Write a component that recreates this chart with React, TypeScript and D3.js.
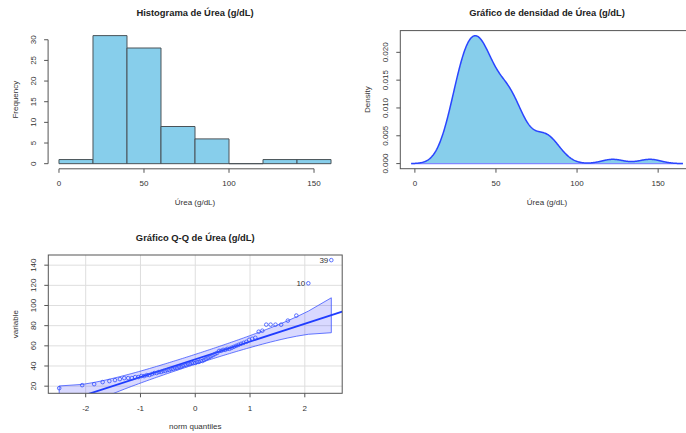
import React from "react";
import * as d3 from "d3";

const ureaValues: number[] = [
  18, 21, 22, 24, 25, 26, 27, 28, 28, 28, 29, 29, 30, 30, 31, 31, 32, 33, 33, 34,
  34, 35, 35, 36, 36, 37, 37, 38, 38, 39, 39, 40,
  41, 41, 42, 42, 43, 43, 43, 44, 44, 45, 45, 46, 47, 48, 49, 50, 51, 52,
  53, 55, 55, 56, 56, 57, 57, 58, 59, 60,
  61, 62, 63, 64, 66, 67, 68, 74, 75,
  81, 81, 81, 81, 85, 90,
  122, 145,
];
// observation ids of the two largest values (labelled on the Q-Q plot)
const outlierLabels: string[] = ["10", "39"];

const histBreaks: number[] = [0, 20, 40, 60, 80, 100, 120, 140, 160];
const histXTicks: number[] = [0, 50, 100, 150];
const histYTicks: number[] = [0, 5, 10, 15, 20, 25, 30];
const densXTicks: number[] = [0, 50, 100, 150];
const densYTicks: number[] = [0, 0.005, 0.01, 0.015, 0.02];
const qqXTicks: number[] = [-2, -1, 0, 1, 2];
const qqYTicks: number[] = [20, 40, 60, 80, 100, 120, 140];
// robust reference line of the Q-Q plot
const qqLineIntercept = 46.6;
const qqLineSlope = 17.6;

const titles = {
  hist: "Histograma de Úrea (g/dL)",
  dens: "Gráfico de densidad de Úrea (g/dL)",
  qq: "Gráfico Q-Q de Úrea (g/dL)",
};

// ---- helpers ----
const FONT = "'Liberation Sans', Arial, Helvetica, sans-serif";
const AXIS_COL = "#555";
const TEXT_COL = "#333";
const SKY = "#87CEEB";

function qnorm(p: number): number {
  const a = [-3.969683028665376e1, 2.209460984245205e2, -2.759285104469687e2, 1.38357751867269e2, -3.066479806614716e1, 2.506628277459239];
  const b = [-5.447609879822406e1, 1.615858368580409e2, -1.556989798598866e2, 6.680131188771972e1, -1.328068155288572e1];
  const c = [-7.784894002430293e-3, -3.223964580411365e-1, -2.400758277161838, -2.549732539343734, 4.374664141464968, 2.938163982698783];
  const d = [7.784695709041462e-3, 3.224671290700398e-1, 2.445134137142996, 3.754408661907416];
  const pl = 0.02425;
  if (p < pl) {
    const q = Math.sqrt(-2 * Math.log(p));
    return (((((c[0] * q + c[1]) * q + c[2]) * q + c[3]) * q + c[4]) * q + c[5]) / ((((d[0] * q + d[1]) * q + d[2]) * q + d[3]) * q + 1);
  }
  if (p <= 1 - pl) {
    const q = p - 0.5;
    const r = q * q;
    return ((((((a[0] * r + a[1]) * r + a[2]) * r + a[3]) * r + a[4]) * r + a[5]) * q) / (((((b[0] * r + b[1]) * r + b[2]) * r + b[3]) * r + b[4]) * r + 1);
  }
  const q = Math.sqrt(-2 * Math.log(1 - p));
  return -(((((c[0] * q + c[1]) * q + c[2]) * q + c[3]) * q + c[4]) * q + c[5]) / ((((d[0] * q + d[1]) * q + d[2]) * q + d[3]) * q + 1);
}
const dnorm = (z: number) => Math.exp(-0.5 * z * z) / Math.sqrt(2 * Math.PI);
const ext = (lo: number, hi: number): [number, number] => {
  const r = hi - lo;
  return [lo - 0.04 * r, hi + 0.04 * r];
};

type AxisProps = {
  scale: d3.ScaleLinear<number, number>;
  ticks: number[];
  pos: number;
  fmt?: (v: number) => string;
  line?: boolean;
};
function XAxis({ scale, ticks, pos, fmt = String, line = true }: AxisProps) {
  return (
    <g>
      {line && (
        <line x1={scale(ticks[0])} x2={scale(ticks[ticks.length - 1])} y1={pos} y2={pos} stroke={AXIS_COL} />
      )}
      {ticks.map((t) => (
        <g key={t}>
          <line x1={scale(t)} x2={scale(t)} y1={pos} y2={pos + 4} stroke={AXIS_COL} />
          <text x={scale(t)} y={pos + 15} textAnchor="middle" dominantBaseline="central" fontSize={8} fill={TEXT_COL}>
            {fmt(t)}
          </text>
        </g>
      ))}
    </g>
  );
}
function YAxis({ scale, ticks, pos, fmt = String, line = true }: AxisProps) {
  return (
    <g>
      {line && (
        <line x1={pos} x2={pos} y1={scale(ticks[0])} y2={scale(ticks[ticks.length - 1])} stroke={AXIS_COL} />
      )}
      {ticks.map((t) => (
        <g key={t}>
          <line x1={pos - 4} x2={pos} y1={scale(t)} y2={scale(t)} stroke={AXIS_COL} />
          <text
            transform={`translate(${pos - 15},${scale(t)}) rotate(-90)`}
            textAnchor="middle"
            dominantBaseline="central"
            fontSize={8}
            fill={TEXT_COL}
          >
            {fmt(t)}
          </text>
        </g>
      ))}
    </g>
  );
}
function Labels({ x0, x1, y0, y1, title, xlab, ylab }: { x0: number; x1: number; y0: number; y1: number; title: string; xlab: string; ylab: string }) {
  const cx = (x0 + x1) / 2;
  const cy = (y0 + y1) / 2;
  return (
    <g>
      <text x={cx} y={y0 - 18} textAnchor="middle" dominantBaseline="central" fontSize={9.4} fontWeight="bold" fill="#222">
        {title}
      </text>
      <text x={cx} y={y1 + 33.5} textAnchor="middle" dominantBaseline="central" fontSize={8} fill={TEXT_COL}>
        {xlab}
      </text>
      <text transform={`translate(${x0 - 32.5},${cy}) rotate(-90)`} textAnchor="middle" dominantBaseline="central" fontSize={8} fill={TEXT_COL}>
        {ylab}
      </text>
    </g>
  );
}

// ---- Histogram ----
function Histogram() {
  const X0 = 48.1, X1 = 341.9, Y0 = 30.5, Y1 = 168.8;
  const counts = histBreaks.slice(0, -1).map((b0, i) => {
    const b1 = histBreaks[i + 1];
    return {
      x0: b0,
      x1: b1,
      n: ureaValues.filter((v) => (i === 0 ? v >= b0 : v > b0) && v <= b1).length,
    };
  });
  const maxN = d3.max(counts, (c) => c.n) as number;
  const x = d3.scaleLinear().domain(ext(histBreaks[0], histBreaks[histBreaks.length - 1])).range([X0, X1]);
  const y = d3.scaleLinear().domain(ext(0, maxN)).range([Y1, Y0]);
  return (
    <g>
      {counts.map((c) => (
        <path
          key={c.x0}
          d={`M${x(c.x0)},${y(0)}V${y(c.n)}H${x(c.x1)}V${y(0)}Z`}
          fill={SKY}
          stroke="#4a5358"
          strokeWidth={1}
        />
      ))}
      <XAxis scale={x} ticks={histXTicks} pos={Y1} />
      <YAxis scale={y} ticks={histYTicks} pos={X0} />
      <Labels x0={X0} x1={X1} y0={Y0} y1={Y1} title={titles.hist} xlab="Úrea (g/dL)" ylab="Frequency" />
    </g>
  );
}

// ---- Density ----
function Density() {
  const X0 = 400.3, X1 = 693.8, Y0 = 30.6, Y1 = 168.7;
  const n = ureaValues.length;
  const sd = d3.deviation(ureaValues) as number;
  const iqr = (d3.quantile(ureaValues, 0.75) as number) - (d3.quantile(ureaValues, 0.25) as number);
  const bw = 0.9 * Math.min(sd, iqr / 1.34) * Math.pow(n, -0.2);
  const lo = (d3.min(ureaValues) as number) - 3 * bw;
  const hi = (d3.max(ureaValues) as number) + 3 * bw;
  const grid = d3.range(512).map((i) => lo + ((hi - lo) * i) / 511);
  const dens = grid.map((g) => ({
    x: g,
    y: d3.mean(ureaValues, (v) => dnorm((g - v) / bw) / bw) as number,
  }));
  const maxD = d3.max(dens, (p) => p.y) as number;
  const x = d3.scaleLinear().domain(ext(lo, hi)).range([X0, X1]);
  const y = d3.scaleLinear().domain(ext(0, maxD)).range([Y1, Y0]);
  const area = d3.area<{ x: number; y: number }>().x((p) => x(p.x)).y0(y(0)).y1((p) => y(p.y));
  const line = d3.line<{ x: number; y: number }>().x((p) => x(p.x)).y((p) => y(p.y));
  return (
    <g>
      <defs>
        <clipPath id="densClip">
          <rect x={X0} y={Y0} width={X1 - X0} height={Y1 - Y0} />
        </clipPath>
      </defs>
      <g clipPath="url(#densClip)">
        <path d={area(dens) as string} fill={SKY} stroke="none" />
        <line x1={x(lo)} x2={x(hi)} y1={y(0)} y2={y(0)} stroke="#8088ff" strokeWidth={1.4} />
        <path d={line(dens) as string} fill="none" stroke="#2a45ff" strokeWidth={1.5} />
      </g>
      <rect x={X0} y={Y0} width={X1 - X0} height={Y1 - Y0} fill="none" stroke={AXIS_COL} />
      <XAxis scale={x} ticks={densXTicks} pos={Y1} line={false} />
      <YAxis scale={y} ticks={densYTicks} pos={X0} fmt={d3.format(".3f")} line={false} />
      <Labels x0={X0} x1={X1} y0={Y0} y1={Y1} title={titles.dens} xlab="Úrea (g/dL)" ylab="Density" />
    </g>
  );
}

// ---- Q-Q plot ----
function QQPlot() {
  const X0 = 48.3, X1 = 342.2, Y0 = 255, Y1 = 393.3;
  const n = ureaValues.length;
  const sorted = [...ureaValues].sort((a, b) => a - b);
  const P = sorted.map((_, i) => (i + 1 - 0.5) / n);
  const z = P.map(qnorm);
  const x = d3.scaleLinear().domain(ext(z[0], z[n - 1])).range([X0, X1]);
  const y = d3.scaleLinear().domain(ext(sorted[0], sorted[n - 1])).range([Y1, Y0]);
  const env = z.map((zz, i) => {
    const fit = qqLineIntercept + qqLineSlope * zz;
    const se = (qqLineSlope / dnorm(zz)) * Math.sqrt((P[i] * (1 - P[i])) / n);
    return { z: zz, up: fit + 1.96 * se, lo: fit - 1.96 * se };
  });
  const poly =
    "M" +
    env.map((e) => `${x(e.z)},${y(e.up)}`).join("L") +
    "L" +
    [...env].reverse().map((e) => `${x(e.z)},${y(e.lo)}`).join("L") +
    "Z";
  const [dx0, dx1] = x.domain();
  return (
    <g>
      <defs>
        <clipPath id="qqClip">
          <rect x={X0} y={Y0} width={X1 - X0} height={Y1 - Y0} />
        </clipPath>
      </defs>
      {qqXTicks.map((t) => (
        <line key={"gx" + t} x1={x(t)} x2={x(t)} y1={Y0} y2={Y1} stroke="#dedede" />
      ))}
      {qqYTicks.map((t) => (
        <line key={"gy" + t} x1={X0} x2={X1} y1={y(t)} y2={y(t)} stroke="#dedede" />
      ))}
      <g clipPath="url(#qqClip)">
        <path d={poly} fill="rgba(0,0,255,0.15)" stroke="#3d55ff" strokeWidth={0.8} />
        <line
          x1={x(dx0)}
          x2={x(dx1)}
          y1={y(qqLineIntercept + qqLineSlope * dx0)}
          y2={y(qqLineIntercept + qqLineSlope * dx1)}
          stroke="#1f3cff"
          strokeWidth={1.8}
        />
        {sorted.map((v, i) => (
          <circle key={i} cx={x(z[i])} cy={y(v)} r={1.8} fill="none" stroke="#3550ff" strokeWidth={0.8} />
        ))}
      </g>
      {outlierLabels.map((lab, k) => {
        const i = n - outlierLabels.length + k;
        return (
          <text key={lab} x={x(z[i]) - 3} y={y(sorted[i])} textAnchor="end" dominantBaseline="central" fontSize={8} fill={TEXT_COL}>
            {lab}
          </text>
        );
      })}
      <rect x={X0} y={Y0} width={X1 - X0} height={Y1 - Y0} fill="none" stroke={AXIS_COL} />
      <XAxis scale={x} ticks={qqXTicks} pos={Y1} line={false} />
      <YAxis scale={y} ticks={qqYTicks} pos={X0} line={false} />
      <Labels x0={X0} x1={X1} y0={Y0} y1={Y1} title={titles.qq} xlab="norm quantiles" ylab="variable" />
    </g>
  );
}

export default function App() {
  return (
    <svg
      width={686}
      height={433}
      style={{ position: "absolute", left: 0, top: 0, background: "#fff" }}
      fontFamily={FONT}
    >
      <rect width={686} height={433} fill="#fff" />
      <Histogram />
      <Density />
      <QQPlot />
    </svg>
  );
}
